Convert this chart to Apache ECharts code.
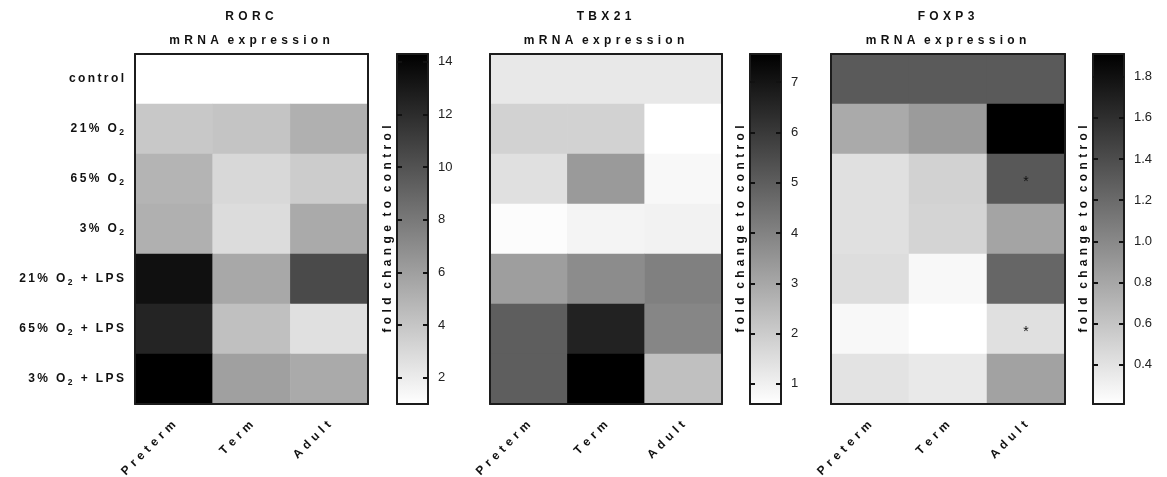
<!DOCTYPE html>
<html>
<head>
<meta charset="utf-8">
<title>mRNA expression heatmaps</title>
<script src="https://cdn.jsdelivr.net/npm/echarts@6/dist/echarts.min.js"></script>
<style>
  html, body { margin: 0; padding: 0; background: #ffffff; }
  #chart { width: 1167px; height: 477px; }
</style>
</head>
<body>
<div id="chart"></div>
<script>
// Row and column categories shared by the three panels
const conditions = ['control', '21% O2', '65% O2', '3% O2', '21% O2 + LPS', '65% O2 + LPS', '3% O2 + LPS'];
const groups = ['Preterm', 'Term', 'Adult'];

// Fold change to control, one row per condition: [Preterm, Term, Adult]
const rorc = [
  [1.00, 1.00, 1.00],
  [3.87, 4.08, 5.12],
  [4.91, 3.03, 3.66],
  [5.12, 2.83, 5.43],
  [13.47, 5.54, 10.44],
  [12.42, 4.29, 2.62],
  [14.30, 5.95, 5.43]
];
const tbx21 = [
  [1.23, 1.23, 1.23],
  [1.83, 1.83, 0.60],
  [1.45, 3.36, 0.79],
  [0.68, 0.90, 0.95],
  [3.25, 3.74, 4.07],
  [4.99, 6.63, 3.90],
  [4.99, 7.56, 2.32]
];
const foxp3 = [
  [1.31, 1.31, 1.31],
  [0.78, 0.88, 1.91],
  [0.42, 0.51, 1.32],
  [0.42, 0.50, 0.82],
  [0.44, 0.26, 1.23],
  [0.26, 0.21, 0.42],
  [0.40, 0.36, 0.83]
];

// Colour-scale ranges and colour-bar tick labels
const rorcRange = [1.0, 14.3];
const tbx21Range = [0.6, 7.56];
const foxp3Range = [0.21, 1.91];
const rorcTicks = [2, 4, 6, 8, 10, 12, 14];
const tbx21Ticks = [1, 2, 3, 4, 5, 6, 7];
const foxp3Ticks = [0.4, 0.6, 0.8, 1.0, 1.2, 1.4, 1.6, 1.8];

// Significance marks: [column, row]
const rorcMarks = [];
const tbx21Marks = [];
const foxp3Marks = [[2, 2], [2, 5]];

const FONT = '"Liberation Sans", Arial, Helvetica, sans-serif';
const INK = '#111111';
const FRAME = { show: true, onZero: false, lineStyle: { color: '#1c1c1c', width: 2 } };

// widen the tracking of a label by putting a gap between letters
function spaceOut(s, gap, wordGap) {
  return s.split(' ').map(w => w.split('').join(gap)).join(wordGap || gap + gap);
}
const WIDE = ' \u200A';
const THIN = '\u2009';

const panels = [
  { gene: 'RORC', values: rorc, range: rorcRange, ticks: rorcTicks, marks: rorcMarks, digits: 0,
    hm: { left: 135, width: 233 }, cb: { left: 397, width: 31 }, rowLabels: true },
  { gene: 'TBX21', values: tbx21, range: tbx21Range, ticks: tbx21Ticks, marks: tbx21Marks, digits: 0,
    hm: { left: 490, width: 232 }, cb: { left: 750, width: 31 }, rowLabels: false },
  { gene: 'FOXP3', values: foxp3, range: foxp3Range, ticks: foxp3Ticks, marks: foxp3Marks, digits: 1,
    hm: { left: 831, width: 234 }, cb: { left: 1093, width: 31 }, rowLabels: false }
];

const TOP = 54, HEIGHT = 350;

const option = {
  animation: false,
  backgroundColor: '#ffffff',
  title: [], grid: [], xAxis: [], yAxis: [], series: [], visualMap: []
};

panels.forEach((p, i) => {
  const g = 2 * i, a = 4 * i;

  option.title.push({
    text: spaceOut(p.gene, WIDE) + '\n' + spaceOut('mRNA expression', WIDE),
    left: p.hm.left + p.hm.width / 2 - 2,
    top: 5,
    padding: 0,
    textAlign: 'center',
    textStyle: { fontFamily: FONT, fontSize: 12, fontWeight: 'bold', color: INK, lineHeight: 24 }
  });

  option.grid.push(
    { left: p.hm.left, top: TOP, width: p.hm.width, height: HEIGHT, containLabel: false, outerBoundsMode: 'none' },
    { left: p.cb.left, top: TOP, width: p.cb.width, height: HEIGHT, containLabel: false, outerBoundsMode: 'none' }
  );

  // heatmap axes (bottom/top, left/right draw the frame)
  option.xAxis.push(
    { gridIndex: g, type: 'category', data: groups, position: 'bottom', z: 10,
      axisLine: FRAME, axisTick: { show: false }, splitLine: { show: false },
      axisLabel: { rotate: 45, margin: 19, fontFamily: FONT, fontSize: 12, fontWeight: 'bold', color: INK,
        formatter: s => spaceOut(s, WIDE) } },
    { gridIndex: g, type: 'category', data: groups, position: 'top', z: 10,
      axisLine: FRAME, axisTick: { show: false }, axisLabel: { show: false }, splitLine: { show: false } },
    { gridIndex: g + 1, type: 'category', data: [''], position: 'bottom', z: 10,
      axisLine: FRAME, axisTick: { show: false }, axisLabel: { show: false }, splitLine: { show: false } },
    { gridIndex: g + 1, type: 'category', data: [''], position: 'top', z: 10,
      axisLine: FRAME, axisTick: { show: false }, axisLabel: { show: false }, splitLine: { show: false } }
  );

  const tickStyle = { show: true, inside: true, length: 5, customValues: p.ticks,
    lineStyle: { color: INK, width: 2 } };

  option.yAxis.push(
    { gridIndex: g, type: 'category', data: conditions, inverse: true, position: 'left', z: 10,
      axisLine: FRAME, axisTick: { show: false }, splitLine: { show: false },
      axisLabel: { show: p.rowLabels, margin: 11, fontFamily: FONT, fontSize: 12, fontWeight: 'bold', color: INK,
        formatter: s => spaceOut(s, THIN, THIN + ' ' + THIN).replace('O' + THIN + '2', 'O' + THIN + '{sub|2}'),
        rich: { sub: { fontFamily: FONT, fontSize: 8.5, fontWeight: 'bold', color: INK, padding: [7, 0, 0, 0] } } } },
    { gridIndex: g, type: 'category', data: conditions, inverse: true, position: 'right', z: 10,
      axisLine: FRAME, axisTick: { show: false }, axisLabel: { show: false }, splitLine: { show: false } },
    { gridIndex: g + 1, type: 'value', min: p.range[0], max: p.range[1], position: 'left', z: 10,
      axisLine: FRAME, axisTick: tickStyle, axisLabel: { show: false }, splitLine: { show: false },
      name: spaceOut('fold change to control', WIDE), nameLocation: 'middle', nameGap: 3,
      nameTextStyle: { fontFamily: FONT, fontSize: 12, fontWeight: 'bold', color: INK } },
    { gridIndex: g + 1, type: 'value', min: p.range[0], max: p.range[1], position: 'right', z: 10,
      axisLine: FRAME, axisTick: tickStyle, splitLine: { show: false },
      axisLabel: { show: true, margin: 10, customValues: p.ticks, fontFamily: FONT, fontSize: 13, color: '#222222',
        formatter: v => Number(v).toFixed(p.digits) } }
  );

  // heatmap cells
  const data = [];
  p.values.forEach((row, r) => {
    row.forEach((v, c) => {
      const marked = p.marks.some(m => m[0] === c && m[1] === r);
      const item = { value: [c, r, v] };
      if (marked) {
        item.label = { show: true, formatter: '*', fontFamily: FONT, fontSize: 14, color: INK, offset: [0, 3] };
      }
      data.push(item);
    });
  });

  const hmIndex = option.series.length;
  option.series.push({
    type: 'heatmap', xAxisIndex: a, yAxisIndex: a, data: data,
    label: { show: false }, emphasis: { disabled: true }, silent: true
  });
  option.visualMap.push({
    type: 'continuous', show: false, seriesIndex: hmIndex, dimension: 2,
    min: p.range[0], max: p.range[1], inRange: { color: ['#ffffff', '#000000'] }
  });

  // colour bar: transparent base up to the scale minimum, gradient segment up to the maximum
  option.series.push(
    { type: 'bar', xAxisIndex: a + 2, yAxisIndex: a + 2, stack: 'bar' + i, barWidth: '100%',
      data: [p.range[0]], itemStyle: { color: 'rgba(0,0,0,0)' }, silent: true },
    { type: 'bar', xAxisIndex: a + 2, yAxisIndex: a + 2, stack: 'bar' + i, barWidth: '100%',
      data: [p.range[1] - p.range[0]], silent: true,
      itemStyle: { color: new echarts.graphic.LinearGradient(0, 0, 0, 1, [
        { offset: 0, color: '#000000' }, { offset: 1, color: '#ffffff' }]) } }
  );
});

const chart = echarts.init(document.getElementById('chart'), null, { renderer: 'canvas' });
chart.setOption(option);
</script>
</body>
</html>
